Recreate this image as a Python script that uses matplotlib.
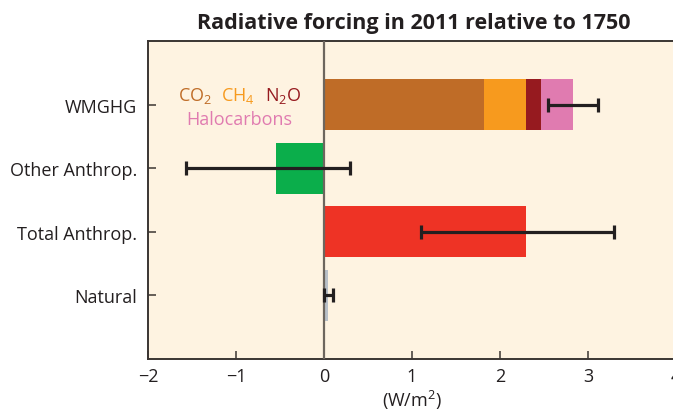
import matplotlib
matplotlib.use("Agg")
import matplotlib.pyplot as plt

# ---- data ----
categories = ["WMGHG", "Other Anthrop.", "Total Anthrop.", "Natural"]
wmghg_parts = ["CO$_2$", "CH$_4$", "N$_2$O", "Halocarbons"]
wmghg_values = [1.82, 0.48, 0.17, 0.36]
other_value = -0.55
total_value = 2.29
natural_value = 0.05
err_low = [2.54, -1.57, 1.10, 0.00]
err_high = [3.11, 0.30, 3.29, 0.10]
xticks = [-2, -1, 0, 1, 2, 3, 4]

# ---- style ----
part_colors = ["#BF6C27", "#F79A1E", "#961A1F", "#E07BB0"]
other_color = "#0BAE4B"
total_color = "#EE3325"
natural_color = "#B9C0C8"
bg = "#FEF3E1"
dark = "#231F20"

plt.rcParams["font.family"] = ["Open Sans", "DejaVu Sans"]
plt.rcParams["mathtext.fontset"] = "custom"
plt.rcParams["mathtext.rm"] = "Open Sans"
plt.rcParams["mathtext.it"] = "Open Sans"
plt.rcParams["mathtext.default"] = "rm"

fig = plt.figure(figsize=(6.73, 4.14), dpi=100)
ax = fig.add_axes([148 / 673, 54 / 414, (676 - 148) / 673, (360 - 42) / 414])
ax.set_facecolor(bg)

ypos = [4, 3, 2, 1]
h = 0.8

left = 0
for v, c in zip(wmghg_values, part_colors):
    ax.barh(ypos[0], v, left=left, height=h, color=c, zorder=2)
    left += v
ax.barh(ypos[1], other_value, height=h, color=other_color, zorder=2)
ax.barh(ypos[2], total_value, height=h, color=total_color, zorder=2)
ax.barh(ypos[3], natural_value, height=h, color=natural_color, zorder=2)

ax.axvline(0, color="#6D665E", lw=1.6, zorder=3)

centers = [(lo + hi) / 2 for lo, hi in zip(err_low, err_high)]
halfw = [(hi - lo) / 2 for lo, hi in zip(err_low, err_high)]
ax.errorbar(centers, ypos, xerr=halfw, fmt="none", ecolor=dark,
            elinewidth=2.3, capsize=5, capthick=2.3, zorder=4)

# legend text
fs_leg = 13
ax.text(-1.66, 4.15, wmghg_parts[0], color=part_colors[0], fontsize=fs_leg, ha="left", va="center")
ax.text(-1.17, 4.15, wmghg_parts[1], color=part_colors[1], fontsize=fs_leg, ha="left", va="center")
ax.text(-0.67, 4.15, wmghg_parts[2], color=part_colors[2], fontsize=fs_leg, ha="left", va="center")
ax.text(-0.96, 3.77, wmghg_parts[3], color=part_colors[3], fontsize=fs_leg, ha="center", va="center")

ax.set_xlim(-2, 4)
ax.set_ylim(0, 5)
ax.set_yticks(ypos)
ax.set_yticklabels(categories, fontsize=13, color=dark)
ax.set_xticks(xticks)
ax.set_xticklabels([str(t).replace("-", "\u2212") for t in xticks], fontsize=13, color=dark)
ax.tick_params(axis="both", direction="in", length=6, width=1.2, color="#4a4440")
ax.tick_params(axis="y", pad=8)
ax.tick_params(axis="x", pad=6)
for s in ax.spines.values():
    s.set_color("#3a3532")
    s.set_linewidth(1.4)

ax.set_xlabel("(W/m$^2$)", fontsize=13, color=dark, labelpad=2)
fig.text(414 / 673, 1 - 23 / 414, "Radiative forcing in 2011 relative to 1750",
         fontsize=15.5, fontweight="bold", color=dark, ha="center", va="center")

fig.savefig("out.png", dpi=100)
